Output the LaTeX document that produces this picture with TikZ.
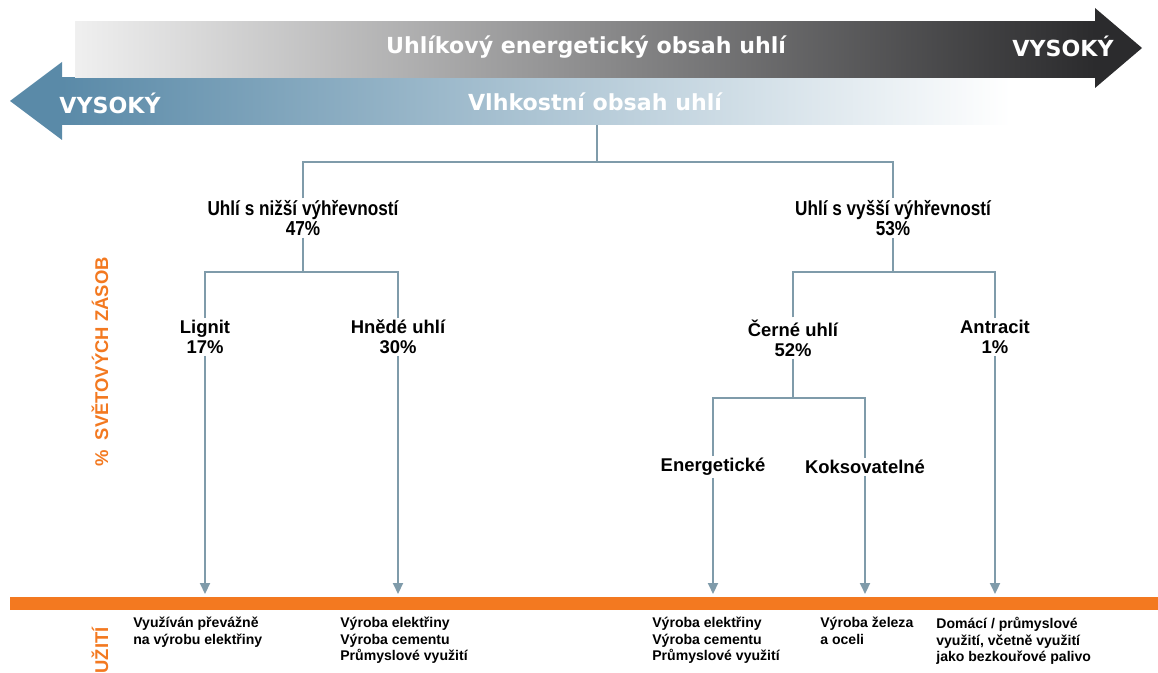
\documentclass[tikz,border=0pt]{standalone}
\usepackage{fontspec}
\setmainfont{Liberation Sans}
\newfontfamily\widefont{DejaVu Sans}
\newfontfamily\narrowfont[FakeStretch=0.85]{Liberation Sans}
\usetikzlibrary{arrows.meta,positioning}
\definecolor{linec}{HTML}{7F9BAA}
\definecolor{bluec}{HTML}{5A8AA8}
\definecolor{darkc}{HTML}{2B2B2D}
\definecolor{orng}{HTML}{F37920}
\tikzset{
  ln/.style={linec,line width=1.2pt},
  ar/.style={-{Triangle[length=2.2mm,width=2mm]},linec,line width=1.2pt},
  lbl/.style={font=\bfseries\fontsize{10.5}{11.5}\selectfont,align=center,inner sep=1pt},
  grp/.style={font=\narrowfont\bfseries\fontsize{11.5}{9.8}\selectfont,align=center,inner sep=1pt},
  use/.style={font=\bfseries\fontsize{8}{9.4}\selectfont,align=left,anchor=north west,inner sep=0pt},
  hd/.style={font=\widefont\bfseries\fontsize{12.6}{13}\selectfont,text=white},
  side/.style={font=\bfseries\fontsize{10.5}{12}\selectfont,text=orng,rotate=90}
}

\begin{document}
\begin{tikzpicture}[x=0.02cm,y=-0.02cm]
\useasboundingbox (0,0) rectangle (1158,672);
% scale arrows
\shade[left color=bluec,middle color=bluec!45!white,right color=white] (62,78) rectangle (1010,125);
\fill[bluec] (62,62) -- (10,101) -- (62,140) -- cycle;
\shade[left color=black!6,right color=darkc] (75,22) rectangle (1095,78);
\fill[darkc] (1095,8) -- (1142,48) -- (1095,88) -- cycle;
\node[hd] (carb) at (586,47) {Uhlíkový energetický obsah uhlí};
\node[hd] (vysr) at (1063,46) {VYSOKÝ};
\node[hd] (vysl) at (110,103) {VYSOKÝ};
\node[hd] (moist) at (595,102) {Vlhkostní obsah uhlí};
% tree
\node[grp] (low) at (303,218) {Uhlí s nižší výhřevností\\47\%};
\node[grp] (high) at (893,218) {Uhlí s vyšší výhřevností\\53\%};
\node[lbl] (lig) at (205,337) {Lignit\\17\%};
\node[lbl] (hne) at (398,337) {Hnědé uhlí\\30\%};
\node[lbl] (cer) at (793,338) {Černé uhlí\\52\%};
\node[lbl] (ant) at (995,337) {Antracit\\1\%};
\node[lbl] (ene) at (713,467) {Energetické};
\node[lbl] (kok) at (865,467) {Koksovatelné};
\coordinate (root) at (597,125);
\coordinate (j1) at (597,162);
\coordinate (j2) at (303,272);
\coordinate (j3) at (893,272);
\coordinate (j4) at (793,398);
\draw[ln] (root) -- (j1);
\draw[ln] (low.north) |- (j1) -| (high.north);
\draw[ln] (low.south) -- (j2);
\draw[ln] (lig.north) |- (j2) -| (hne.north);
\draw[ln] (high.south) -- (j3);
\draw[ln] (cer.north) |- (j3) -| (ant.north);
\draw[ln] (cer.south) -- (j4);
\draw[ln] (ene.north) |- (j4) -| (kok.north);
% usage bar
\fill[orng] (10,597) rectangle (1158,610);
\foreach \n/\x in {lig/205,hne/398,ene/713,kok/865,ant/995}{
  \coordinate (b\n) at (\x,594);
  \draw[ar] (\n.south) -- (b\n);
}
\node[use] (u1) at (133,617) {Využíván převážně\\na výrobu elektřiny};
\node[use] (u2) at (340,617) {Výroba elektřiny\\Výroba cementu\\Průmyslové využití};
\node[use] (u3) at (652,617) {Výroba elektřiny\\Výroba cementu\\Průmyslové využití};
\node[use] (u4) at (820,617) {Výroba železa\\a oceli};
\node[use] (u5) at (936,617) {Domácí / průmyslové\\využití, včetně využití\\jako bezkouřové palivo};
% side labels
\node[side] (zas) at (100,362) {\%\ \ SVĚTOVÝCH ZÁSOB};
\begin{scope}
\clip (0,0) rectangle (1158,672);
\node[side,anchor=east] (vyu) at (100,621) {VYUŽITÍ};
\end{scope}
\end{tikzpicture}
\end{document}
